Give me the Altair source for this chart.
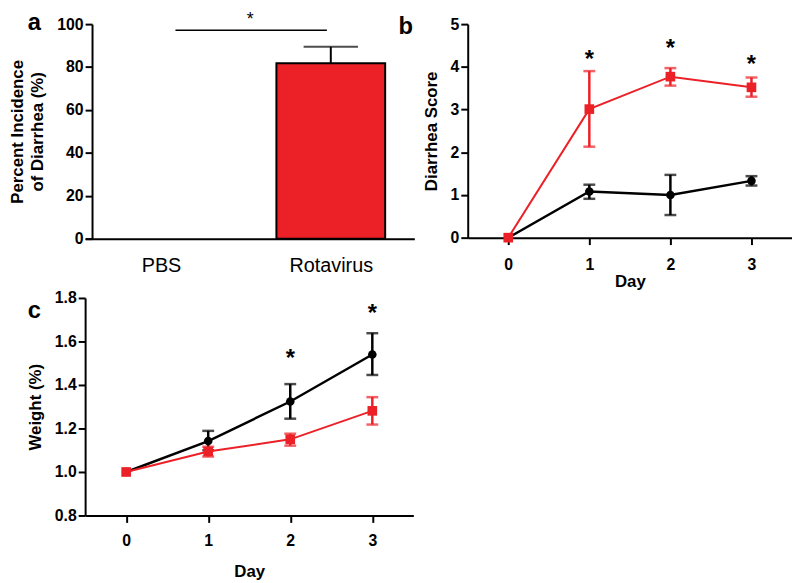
import json
import altair as alt
import pandas as pd

# ---------------- data ----------------
# panel a
groups = ["PBS", "Rotavirus"]
group_pos = [0, 1]
incidence = [0.0, 81.8]
incidence_err_hi = [0.0, 89.4]
bracket_x = [0.085, 0.977]
bracket_y = [97.1]
star_a_x = [0.525]
star_a_y = [104.0]

# panel b (diarrhea score)
days = [0, 1, 2, 3]
b_rota_mean = [0.0, 3.01, 3.77, 3.52]
b_rota_lo = [0.0, 2.13, 3.56, 3.30]
b_rota_hi = [0.0, 3.90, 3.97, 3.75]
b_pbs_mean = [0.0, 1.08, 1.00, 1.33]
b_pbs_lo = [0.0, 0.91, 0.53, 1.22]
b_pbs_hi = [0.0, 1.24, 1.47, 1.44]
b_star_days = [1, 2, 3]
b_star_y = [4.30, 4.55, 4.19]

# panel c (weight)
c_pbs_mean = [1.0, 1.142, 1.324, 1.540]
c_pbs_lo = [1.0, 1.100, 1.245, 1.446]
c_pbs_hi = [1.0, 1.189, 1.404, 1.638]
c_rota_mean = [1.0, 1.094, 1.150, 1.281]
c_rota_lo = [1.0, 1.071, 1.121, 1.218]
c_rota_hi = [1.0, 1.116, 1.176, 1.344]
c_star_days = [2, 3]
c_star_y = [1.545, 1.755]

RED = "#EC2027"
BLACK = "#000000"
FONT = "Liberation Sans"

# ---------------- panel a ----------------
df_a = pd.DataFrame({"group": groups, "pos": group_pos, "val": incidence, "hi": incidence_err_hi})
df_bracket = pd.DataFrame({"x": [bracket_x[0]], "x2": [bracket_x[1]], "y": bracket_y})
df_star_a = pd.DataFrame({"x": star_a_x, "y": star_a_y})

xa_scale = alt.Scale(domain=[-0.418, 1.463], nice=False, zero=False)
ya_scale = alt.Scale(domain=[0, 100], nice=False)
xa_axis = alt.Axis(values=group_pos, labelExpr=json.dumps(groups) + "[datum.value]",
                   ticks=False, title=None, labelFontWeight="normal", labelFontSize=20,
                   labelPadding=17)
ya_axis = alt.Axis(values=[0, 20, 40, 60, 80, 100], title=["Percent Incidence", "of Diarrhea (%)"],
                   titlePadding=10, titleLineHeight=21, offset=-7)

base_a = alt.Chart(df_a)
bars = base_a.mark_bar(size=110, color=RED, stroke=BLACK, strokeWidth=2).transform_filter(
    "datum.val > 0").encode(
    x=alt.X("pos:Q", scale=xa_scale, axis=xa_axis),
    y=alt.Y("val:Q", scale=ya_scale, axis=ya_axis),
)
err_a = base_a.mark_rule(color=BLACK, strokeWidth=2).transform_filter("datum.val > 0").encode(
    x="pos:Q", y="val:Q", y2="hi:Q")
cap_a = base_a.mark_tick(color=BLACK, thickness=2, size=55, orient="horizontal").transform_filter(
    "datum.val > 0").encode(x="pos:Q", y="hi:Q")
bracket = alt.Chart(df_bracket).mark_rule(color=BLACK, strokeWidth=1.5).encode(
    x="x:Q", x2="x2:Q", y="y:Q")
star_a = alt.Chart(df_star_a).mark_text(text="*", fontSize=18, font=FONT, color=BLACK,
                                        baseline="alphabetic", dy=10).encode(x="x:Q", y="y:Q")

panel_a = alt.layer(bars, err_a, cap_a, bracket, star_a).properties(
    width=333, height=217,
    title=alt.TitleParams("a", anchor="start", frame="group", dx=-58, fontSize=24,
                          fontWeight="bold", font=FONT, color=BLACK, offset=0, dy=43,
                          baseline="alphabetic"),
)


# ---------------- line panels ----------------
def line_panel(series, stars, ydomain, yvalues, yfmt, ytitle, letter, letter_dx, letter_dy,
               w, h, xtitle_pad, xlabel_pad):
    xs = alt.Scale(domain=[-0.5, 3.5], nice=False, zero=False)
    ys = alt.Scale(domain=ydomain, nice=False, zero=False)
    xaxis = alt.Axis(values=days, format="d", title="Day", labelPadding=xlabel_pad,
                     titlePadding=xtitle_pad, labelAngle=0)
    yaxis = alt.Axis(values=yvalues, format=yfmt, title=ytitle, titlePadding=10, labelPadding=2)
    layers = []
    first = True
    for mean, lo, hi, color, shape, msize, lw in series:
        df = pd.DataFrame({"day": days, "mean": mean, "lo": lo, "hi": hi})
        base = alt.Chart(df)
        if first:
            x_enc = alt.X("day:Q", scale=xs, axis=xaxis)
            y_enc = alt.Y("mean:Q", scale=ys, axis=yaxis)
            first = False
        else:
            x_enc = alt.X("day:Q", scale=xs)
            y_enc = alt.Y("mean:Q", scale=ys)
        line = base.mark_line(color=color, strokeWidth=lw).encode(x=x_enc, y=y_enc)
        eb = base.transform_filter("datum.lo < datum.hi").mark_rule(
            color=color, strokeWidth=2.5).encode(x="day:Q", y="lo:Q", y2="hi:Q")
        cap_lo = base.transform_filter("datum.lo < datum.hi").mark_tick(
            color=color, thickness=2.5, size=12, orient="horizontal").encode(x="day:Q", y="lo:Q")
        cap_hi = base.transform_filter("datum.lo < datum.hi").mark_tick(
            color=color, thickness=2.5, size=12, orient="horizontal").encode(x="day:Q", y="hi:Q")
        pts = base.mark_point(shape=shape, filled=True, size=msize, color=color,
                              opacity=1).encode(x="day:Q", y="mean:Q")
        layers += [line, eb, cap_lo, cap_hi, pts]
    sd, sy = stars
    dfs = pd.DataFrame({"day": sd, "y": sy})
    star = alt.Chart(dfs).mark_text(text="*", fontSize=24, font=FONT, fontWeight="bold",
                                    color=BLACK, baseline="alphabetic", dy=13).encode(
        x="day:Q", y="y:Q")
    layers.append(star)
    return alt.layer(*layers).properties(
        width=w, height=h,
        title=alt.TitleParams(letter, anchor="start", frame="group", dx=letter_dx, fontSize=24,
                              fontWeight="bold", font=FONT, color=BLACK, offset=0, dy=letter_dy,
                              baseline="alphabetic"),
    )


panel_b = line_panel(
    [(b_pbs_mean, b_pbs_lo, b_pbs_hi, BLACK, "circle", 75, 2.5),
     (b_rota_mean, b_rota_lo, b_rota_hi, RED, "square", 95, 2)],
    (b_star_days, b_star_y), [0, 5], [0, 1, 2, 3, 4, 5], "d", "Diarrhea Score", "b", -70, 42,
    328, 216, 1, 12)

panel_c = line_panel(
    [(c_pbs_mean, c_pbs_lo, c_pbs_hi, BLACK, "circle", 75, 2.5),
     (c_rota_mean, c_rota_lo, c_rota_hi, RED, "square", 95, 2)],
    (c_star_days, c_star_y), [0.8, 1.8], [0.8, 1.0, 1.2, 1.4, 1.6, 1.8], ".1f", "Weight (%)",
    "c", -58, 52, 332, 220, 16, 10)

chart = alt.concat(panel_a, panel_b, panel_c, columns=2,
                   spacing={"row": 60, "column": 54}, bounds="flush").properties(
    padding=0, background="white"
).configure_view(stroke=None).configure_axis(
    domainColor=BLACK, domainWidth=2, tickColor=BLACK, tickWidth=2, tickSize=7,
    labelFont=FONT, labelFontWeight="bold", labelFontSize=16, labelColor=BLACK,
    titleFont=FONT, titleFontWeight="bold", titleFontSize=17, titleColor=BLACK, grid=False,
)

chart.save("out.html", embed_options={"renderer": "svg", "actions": False})
